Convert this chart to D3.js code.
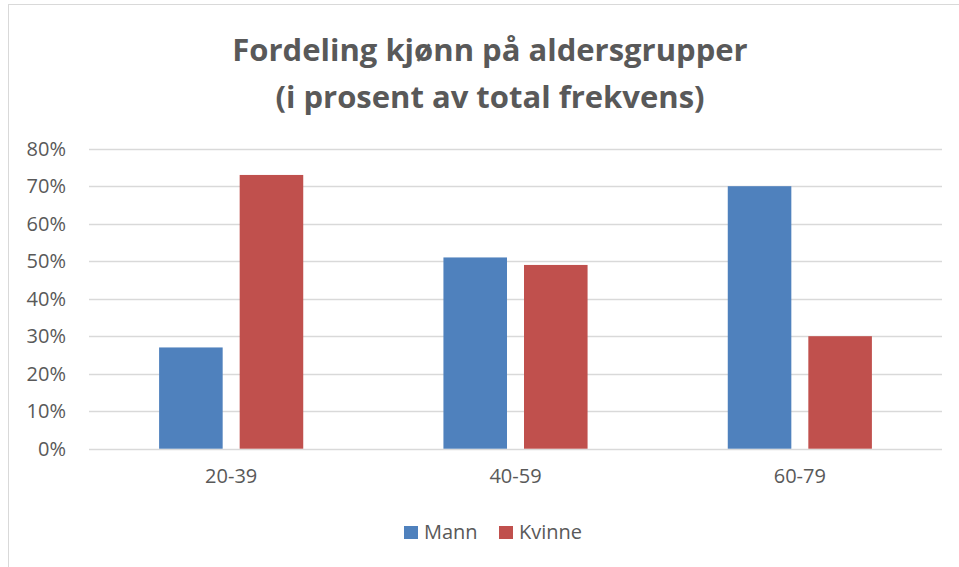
<!DOCTYPE html>
<html>
<head>
<meta charset="utf-8">
<script src="https://cdn.jsdelivr.net/npm/d3@7"></script>
<style>
  body { margin: 0; background: #fff; }
  text { font-family: "Open Sans", sans-serif; fill: #595959; }
</style>
</head>
<body>
<svg id="chart" width="959" height="567"></svg>
<script>
// data
var categories = ['20-39', '40-59', '60-79'];
var seriesNames = ['Mann', 'Kvinne'];
var mann = [27, 51, 70];
var kvinne = [73, 49, 30];
var yTicks = [0, 10, 20, 30, 40, 50, 60, 70, 80];
var titleLines = ['Fordeling kjønn på aldersgrupper', '(i prosent av total frekvens)'];

var colors = ['#4F81BD', '#C0504D'];
var width = 959, height = 567;
var margin = {top: 148.7, right: 17, bottom: 118.3, left: 89};

var svg = d3.select('#chart');

// outer chart border
svg.append('rect')
    .attr('x', 8.5).attr('y', 4.5)
    .attr('width', width + 10).attr('height', height + 10)
    .attr('fill', 'none').attr('stroke', '#d9d9d9').attr('stroke-width', 1);

// title
svg.append('g').selectAll('text')
    .data(titleLines)
  .enter().append('text')
    .attr('x', 490)
    .attr('y', function (d, i) { return 61 + i * 47; })
    .attr('text-anchor', 'middle')
    .style('font-size', '31px')
    .style('font-weight', 'bold')
    .text(function (d) { return d; });

var x0 = d3.scaleBand()
    .domain(categories)
    .range([margin.left, width - margin.right]);

var x1 = d3.scaleBand()
    .domain(seriesNames)
    .range([0, x0.bandwidth()])
    .paddingInner(0.211)
    .paddingOuter(0.87);

var y = d3.scaleLinear()
    .domain([0, 80])
    .range([height - margin.bottom, margin.top]);

// gridlines
svg.append('g').selectAll('line')
    .data(yTicks)
  .enter().append('line')
    .attr('x1', margin.left).attr('x2', width - margin.right)
    .attr('y1', function (d) { return Math.round(y(d)) + 0.5; })
    .attr('y2', function (d) { return Math.round(y(d)) + 0.5; })
    .attr('stroke', '#d9d9d9').attr('stroke-width', 1.3);

// y axis labels
var yAxis = d3.axisLeft(y)
    .tickValues(yTicks)
    .tickSize(0)
    .tickPadding(0)
    .tickFormat(function (d) { return d + '%'; });

var yg = svg.append('g')
    .attr('transform', 'translate(66,0)')
    .call(yAxis);
yg.select('.domain').remove();
yg.selectAll('text')
    .style('font-size', '20px')
    .attr('fill', '#595959');

// x axis labels
var xAxis = d3.axisBottom(x0).tickSize(0).tickPadding(0);
var xg = svg.append('g')
    .attr('transform', 'translate(0,' + (height - margin.bottom + 20) + ')')
    .call(xAxis);
xg.select('.domain').remove();
xg.selectAll('text')
    .style('font-size', '20px')
    .attr('fill', '#595959');

// bars
var rows = categories.map(function (c, i) {
  return {cat: c, values: [mann[i], kvinne[i]]};
});

var groups = svg.append('g').selectAll('g')
    .data(rows)
  .enter().append('g')
    .attr('transform', function (d) { return 'translate(' + x0(d.cat) + ',0)'; });

groups.selectAll('rect')
    .data(function (d) { return d.values.map(function (v, i) { return {key: seriesNames[i], value: v, i: i}; }); })
  .enter().append('rect')
    .attr('x', function (d) { return x1(d.key); })
    .attr('width', x1.bandwidth())
    .attr('y', function (d) { return y(d.value); })
    .attr('height', function (d) { return y(0) - y(d.value); })
    .attr('fill', function (d) { return colors[d.i]; });

// legend
var legendX = [404, 499];
var legend = svg.append('g').selectAll('g')
    .data(seriesNames)
  .enter().append('g')
    .attr('transform', function (d, i) { return 'translate(' + legendX[i] + ',526)'; });

legend.append('rect')
    .attr('width', 14).attr('height', 13)
    .attr('fill', function (d, i) { return colors[i]; });

legend.append('text')
    .attr('x', 20).attr('y', 13)
    .style('font-size', '20px')
    .text(function (d) { return d; });
</script>
</body>
</html>
